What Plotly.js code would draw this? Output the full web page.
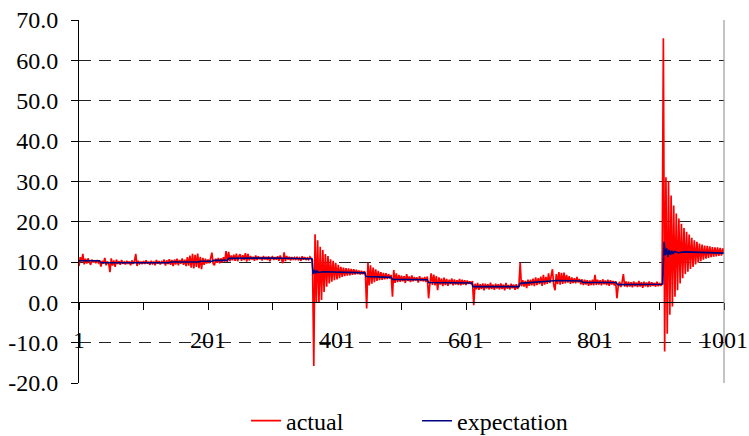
<!DOCTYPE html>
<html>
<head>
<meta charset="utf-8">
<script src="https://cdn.plot.ly/plotly-3.0.1.min.js"></script>
<style>html,body{margin:0;padding:0;background:#fff;}#chart{width:749px;height:436px;}</style>
</head>
<body>
<div id="chart"></div>
<script>
// "actual" series, read every second period (periods 1, 3, 5, ..., 1001)
const actual = [
  9.0, 11.2, 10.1, 12.0, 9.4, 10.8, 9.6, 10.9, 10.0, 9.3, 10.6, 9.9, 10.4, 9.7, 10.5, 9.8, 10.2, 8.9, 10.3, 9.6, 11.0, 9.2, 10.1, 9.7, 7.5,
  10.9, 9.1, 10.4, 8.8, 10.6, 9.5, 10.2, 9.3, 10.5, 9.6, 10.0, 9.4, 10.3, 9.7, 10.1, 9.2, 10.4, 9.5, 10.2, 12.0, 9.0, 10.3, 9.6, 10.0, 9.5,
  10.2, 9.5, 10.4, 9.6, 10.1, 9.3, 10.3, 9.6, 10.0, 9.2, 10.5, 9.6, 10.2, 9.4, 10.1, 9.8, 10.6, 9.1, 10.4, 9.5, 10.7, 9.3, 10.5, 9.0, 10.6,
  9.4, 10.8, 9.2, 10.5, 9.6, 10.9, 9.3, 10.6, 9.0, 11.2, 9.1, 11.6, 8.6, 12.0, 8.4, 11.8, 8.8, 12.1, 8.5, 11.3, 8.2, 11.0, 9.3, 10.8, 9.6,
  10.6, 9.7, 10.9, 12.3, 9.6, 9.2, 10.8, 9.8, 11.0, 9.7, 10.9, 9.9, 11.2, 10.1, 12.7, 10.0, 12.5, 10.2, 11.6, 10.4, 11.8, 10.3, 12.1, 10.2, 11.5,
  11.9, 10.3, 11.7, 10.5, 12.2, 10.1, 12.0, 10.4, 11.5, 10.6, 11.3, 10.3, 11.6, 10.5, 11.4, 10.7, 11.2, 10.4, 11.5, 10.6, 11.3, 10.5, 11.4, 10.2, 11.1,
  11.3, 10.5, 11.2, 10.6, 11.4, 10.3, 11.6, 10.4, 9.7, 12.4, 10.2, 11.5, 10.6, 11.3, 10.4, 11.2, 10.7, 11.1, 10.5, 11.3, 10.6, 11.0, 10.3, 11.4, 10.6,
  11.2, 10.5, 11.0, 10.6, 11.3, 10.8, 10.5, -15.8, 16.9, 0.1, 15.4, -0.1, 13.8, 0.6, 13.0, 2.6, 12.0, 3.9, 11.5, 4.7, 10.7, 5.1, 10.3, 5.5, 9.8,
  5.7, 9.3, 6.0, 8.8, 6.3, 8.6, 6.5, 8.5, 6.6, 8.4, 6.7, 8.3, 6.8, 8.2, 6.9, 8.1, 7.0, 7.9, 6.9, 7.8, 7.0, 7.7, 7.2, -1.5, 9.8,
  4.2, 9.2, 4.6, 8.6, 5.0, 8.2, 5.3, 7.8, 5.5, 7.5, 5.6, 7.3, 5.7, 7.2, 5.8, 7.0, 5.9, 6.8, 1.4, 8.0, 4.8, 7.2, 5.0, 6.8, 5.1,
  6.6, 5.2, 6.5, 4.8, 7.0, 5.3, 6.4, 5.0, 6.7, 5.2, 6.3, 5.4, 6.2, 4.9, 6.5, 5.3, 6.1, 5.2, 6.3, 5.0, 6.4, 1.0, 4.6, 7.2, 4.3,
  6.9, 4.2, 6.5, 3.0, 6.2, 4.4, 5.9, 4.0, 6.1, 4.3, 5.8, 4.1, 5.6, 4.5, 5.9, 4.2, 5.7, 4.4, 5.5, 4.3, 5.8, 4.2, 5.6, 4.4, 5.5,
  4.3, 5.4, 4.6, 5.2, 4.5, 5.3, -0.7, 4.6, 3.2, 4.8, 3.1, 4.5, 3.3, 4.7, 3.0, 4.6, 3.4, 4.5, 3.2, 4.9, 3.3, 4.4, 3.1, 4.6, 3.4,
  4.5, 3.2, 4.7, 3.3, 4.4, 3.0, 4.8, 3.4, 4.3, 3.2, 4.6, 3.5, 4.4, 3.1, 4.5, 3.3, 4.2, 9.8, 4.0, 5.5, 3.9, 5.3, 3.5, 5.6, 4.1,
  5.6, 4.2, 5.9, 4.0, 6.2, 4.3, 6.0, 4.5, 6.4, 4.1, 6.8, 4.4, 6.3, 4.6, 7.2, 4.8, 6.5, 8.2, 4.3, 3.0, 7.0, 4.5, 7.5, 4.4, 7.3,
  4.6, 7.4, 4.7, 6.8, 4.9, 6.5, 4.6, 6.2, 4.8, 6.0, 4.7, 6.3, 4.9, 5.8, 4.5, 5.7, 4.3, 5.6, 4.4, 5.5, 4.1, 5.4, 4.3, 5.6, 4.2,
  6.8, 4.3, 5.6, 4.4, 5.5, 4.2, 5.7, 4.5, 5.4, 4.3, 5.6, 4.1, 5.5, 4.4, 5.3, 4.2, 5.2, 1.0, 4.0, 5.1, 3.8, 5.0, 7.0, 3.9, 5.2,
  3.8, 5.1, 3.9, 5.0, 3.7, 5.2, 4.0, 4.9, 3.8, 5.3, 3.9, 5.0, 3.6, 5.1, 4.0, 4.9, 3.8, 5.2, 3.9, 5.0, 4.1, 4.8, 3.9, 5.1, 4.0,
  4.8, 4.1, 4.7, 65.5, -12.2, 31.0, -7.8, 30.0, -3.1, 26.5, -1.0, 24.0, 1.4, 22.0, 3.0, 20.8, 4.7, 19.5, 6.0, 18.4, 7.0, 17.5, 7.6, 16.8, 8.3,
  16.0, 8.8, 15.4, 9.4, 15.0, 9.8, 14.6, 10.2, 14.3, 10.6, 14.1, 10.8, 14.0, 11.0, 13.9, 11.2, 13.7, 11.3, 13.6, 11.4, 13.6, 11.5, 13.5, 11.6, 13.4,
  12.0
];
const actualPeriods = actual.map((_, k) => 1 + 2 * k);

// "expectation" series at its break points
const expPeriods = [1, 33, 35, 141, 143, 187, 189, 208, 210, 231, 233, 300, 362, 364, 366, 368, 370, 372, 380, 400, 444, 446, 485, 487, 541, 543, 580, 610, 612, 683, 685, 710, 742, 780, 782, 834, 836, 904, 906, 908, 910, 912, 914, 916, 918, 920, 922, 924, 930, 940, 960, 980, 1001];
const expectation = [10.3, 10.3, 9.8, 9.8, 10.0, 10.0, 10.2, 10.2, 10.4, 10.4, 10.9, 11.0, 10.8, 7.0, 8.0, 7.2, 7.8, 7.4, 7.6, 7.5, 7.3, 6.4, 6.2, 5.7, 5.6, 4.9, 4.8, 4.8, 3.9, 3.9, 4.7, 5.0, 5.4, 5.3, 4.9, 4.9, 4.4, 4.5, 4.6, 15.0, 11.7, 13.4, 11.3, 13.0, 11.8, 12.8, 12.0, 12.6, 12.3, 12.5, 12.4, 12.3, 12.2];

const yTicks = [-20, -10, 0, 10, 20, 30, 40, 50, 60, 70];
const yGrid = [-10, 10, 20, 30, 40, 50, 60, 70];
const xLabels = [1, 201, 401, 601, 801, 1001];

const FONT = '"Liberation Serif", "Times New Roman", serif';

const traces = [
  {x: actualPeriods, y: actual, name: 'actual', type: 'scatter', mode: 'lines',
   line: {color: '#ff0000', width: 1.7}, xaxis: 'x', yaxis: 'y'},
  {x: expPeriods, y: expectation, name: 'expectation', type: 'scatter', mode: 'lines',
   line: {color: '#000080', width: 1.6}, xaxis: 'x', yaxis: 'y2'}
];

const layout = {
  width: 749, height: 436,
  margin: {l: 79, r: 25, t: 20, b: 53, autoexpand: false},
  paper_bgcolor: '#fff', plot_bgcolor: '#fff',
  font: {family: FONT, size: 24, color: '#000'},
  showlegend: true,
  legend: {orientation: 'h', x: 0.259, xanchor: 'left', y: -0.105, yanchor: 'middle',
           font: {family: FONT, size: 24}, entrywidth: 126, entrywidthmode: 'pixels',
           bgcolor: 'rgba(0,0,0,0)'},
  xaxis: {range: [1, 1001], anchor: 'free', position: 20 / 90,
          tickmode: 'array', tickvals: xLabels, ticktext: xLabels.map(String),
          ticks: 'outside', ticklen: 7, tickcolor: '#000', tickwidth: 1,
          minor: {tickmode: 'linear', tick0: 1, dtick: 100, ticks: 'outside', ticklen: 7, tickcolor: '#000', showgrid: false},
          showline: true, linecolor: '#000', linewidth: 1,
          showgrid: false, zeroline: false, ticklabelstandoff: 9,
          tickfont: {family: FONT, size: 24}, automargin: false, fixedrange: true},
  yaxis: {range: [-20, 70], tickmode: 'array', tickvals: yTicks,
          ticktext: yTicks.map(v => v.toFixed(1)),
          ticks: 'outside', ticklen: 7, tickcolor: '#000', showline: true, linecolor: '#000',
          showgrid: false, zeroline: false, ticklabelstandoff: 8,
          tickfont: {family: FONT, size: 24}, automargin: false, fixedrange: true},
  yaxis2: {range: [-20, 70], overlaying: 'y', tickmode: 'array', tickvals: yGrid,
           showticklabels: false, ticks: '', showline: false, zeroline: false,
           showgrid: true, gridcolor: '#222', gridwidth: 1, griddash: '12px,8px',
           fixedrange: true},
  shapes: [
    {type: 'line', xref: 'paper', yref: 'paper', x0: 1, x1: 1, y0: 0, y1: 1,
     line: {color: '#888', width: 1}}
  ]
};

Plotly.newPlot('chart', traces, layout, {staticPlot: true, displayModeBar: false});
</script>
</body>
</html>
